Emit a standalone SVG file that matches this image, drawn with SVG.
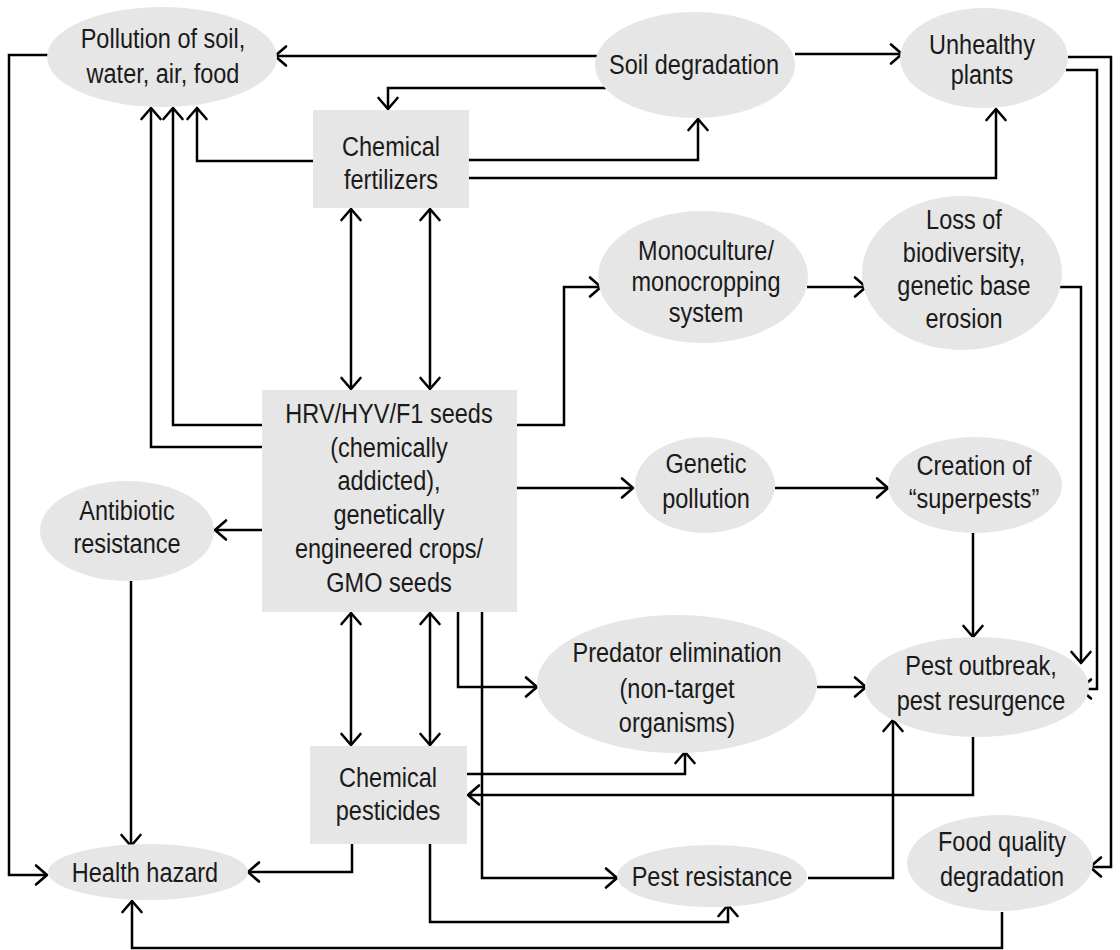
<svg xmlns="http://www.w3.org/2000/svg" width="1120" height="950" viewBox="0 0 1120 950">
<defs>
<style>
.n{fill:#e6e6e6;stroke:none}
.t{font-family:"Liberation Sans",Arial,sans-serif;font-size:28px;fill:#1a1a1a;text-anchor:middle}
.c{fill:none;stroke:#000;stroke-width:2.5;stroke-linejoin:miter}
.a{marker-end:url(#ah)}
.b{marker-start:url(#ah);marker-end:url(#ah)}
</style>
<marker id="ah" viewBox="-14 -12 16 24" refX="0" refY="0" markerWidth="16" markerHeight="24" markerUnits="userSpaceOnUse" orient="auto-start-reverse">
<path d="M-11,-9.5 L0,0 L-11,9.5" fill="none" stroke="#000" stroke-width="2.6" stroke-linejoin="round" stroke-linecap="round"/>
</marker>
</defs>
<rect width="1120" height="950" fill="#fff"/>

<g id="connectors">
<path class="c a" d="M597,56 H275"/>
<path class="c a" d="M606,88 H388 V109"/>
<path class="c a" d="M313,161 H197 V108"/>
<path class="c a" d="M469,160 H698 V119"/>
<path class="c a" d="M469,178 H996 V109"/>
<path class="c a" d="M795,54 H902"/>
<path class="c b" d="M351,209 V389"/>
<path class="c b" d="M430,209 V389"/>
<path class="c a" d="M262,425 H173 V108"/>
<path class="c a" d="M262,447 H151 V108"/>
<path class="c a" d="M48,55 H9 V875 H47"/>
<path class="c a" d="M517,425 H564 V287 H601"/>
<path class="c a" d="M807,287 H866"/>
<path class="c a" d="M517,488 H633"/>
<path class="c a" d="M775,488 H888"/>
<path class="c a" d="M973,533 V637"/>
<path class="c a" d="M1060,287 H1081 V663"/>
<path class="c a" d="M1066,70 H1097 V689 H1080"/>
<path class="c a" d="M1068,57 H1111 V867 H1090"/>
<path class="c a" d="M262,530 H215"/>
<path class="c a" d="M131,581 V846"/>
<path class="c b" d="M351,613 V745"/>
<path class="c b" d="M430,613 V745"/>
<path class="c a" d="M458,612 V687 H537"/>
<path class="c a" d="M482,612 V878 H617"/>
<path class="c a" d="M467,774 H685 V752"/>
<path class="c a" d="M973,737 V795 H468"/>
<path class="c a" d="M352,844 V872 H248"/>
<path class="c a" d="M430,844 V922 H728 V905"/>
<path class="c a" d="M808,878 H893 V720"/>
<path class="c a" d="M817,687 H866"/>
<path class="c a" d="M1002,912 V948 H132 V901"/>
</g>

<g id="pollution">
<ellipse class="n" cx="162" cy="57" rx="115" ry="50"/>
<text class="t" transform="matrix(0.84 0 0 1 163 48)">Pollution of soil,</text>
<text class="t" transform="matrix(0.84 0 0 1 163 83)">water, air, food</text>
</g>
<g id="soil-degradation">
<ellipse class="n" cx="695" cy="65" rx="100" ry="53"/>
<text class="t" transform="matrix(0.84 0 0 1 694 74)">Soil degradation</text>
</g>
<g id="unhealthy-plants">
<ellipse class="n" cx="984" cy="58" rx="84" ry="50"/>
<text class="t" transform="matrix(0.84 0 0 1 982 54)">Unhealthy</text>
<text class="t" transform="matrix(0.84 0 0 1 982 84)">plants</text>
</g>
<g id="chemical-fertilizers">
<rect class="n" x="313" y="110" width="156" height="98"/>
<text class="t" transform="matrix(0.84 0 0 1 391 156)">Chemical</text>
<text class="t" transform="matrix(0.84 0 0 1 391 189)">fertilizers</text>
</g>
<g id="monoculture">
<ellipse class="n" cx="703" cy="277" rx="105" ry="66"/>
<text class="t" transform="matrix(0.84 0 0 1 706 260)">Monoculture/</text>
<text class="t" transform="matrix(0.84 0 0 1 706 291)">monocropping</text>
<text class="t" transform="matrix(0.84 0 0 1 706 322)">system</text>
</g>
<g id="loss-of-biodiversity">
<ellipse class="n" cx="962" cy="273" rx="100" ry="77"/>
<text class="t" transform="matrix(0.84 0 0 1 964 229)">Loss of</text>
<text class="t" transform="matrix(0.84 0 0 1 964 262)">biodiversity,</text>
<text class="t" transform="matrix(0.84 0 0 1 964 295)">genetic base</text>
<text class="t" transform="matrix(0.84 0 0 1 964 328)">erosion</text>
</g>
<g id="hrv-seeds">
<rect class="n" x="262" y="390" width="255" height="222"/>
<text class="t" transform="matrix(0.84 0 0 1 389 423)">HRV/HYV/F1 seeds</text>
<text class="t" transform="matrix(0.84 0 0 1 389 457)">(chemically</text>
<text class="t" transform="matrix(0.84 0 0 1 389 490)">addicted),</text>
<text class="t" transform="matrix(0.84 0 0 1 389 524)">genetically</text>
<text class="t" transform="matrix(0.84 0 0 1 389 558)">engineered crops/</text>
<text class="t" transform="matrix(0.84 0 0 1 389 592)">GMO seeds</text>
</g>
<g id="genetic-pollution">
<ellipse class="n" cx="705" cy="485" rx="70" ry="48"/>
<text class="t" transform="matrix(0.84 0 0 1 706 473)">Genetic</text>
<text class="t" transform="matrix(0.84 0 0 1 706 508)">pollution</text>
</g>
<g id="superpests">
<ellipse class="n" cx="975" cy="485" rx="87" ry="48"/>
<text class="t" transform="matrix(0.84 0 0 1 974 475)">Creation of</text>
<text class="t" transform="matrix(0.84 0 0 1 974 508)">“superpests”</text>
</g>
<g id="antibiotic-resistance">
<ellipse class="n" cx="127" cy="531" rx="87" ry="50"/>
<text class="t" transform="matrix(0.84 0 0 1 127 520)">Antibiotic</text>
<text class="t" transform="matrix(0.84 0 0 1 127 553)">resistance</text>
</g>
<g id="predator-elimination">
<ellipse class="n" cx="677" cy="684" rx="140" ry="69"/>
<text class="t" transform="matrix(0.84 0 0 1 677 662)">Predator elimination</text>
<text class="t" transform="matrix(0.84 0 0 1 677 698)">(non-target</text>
<text class="t" transform="matrix(0.84 0 0 1 677 732)">organisms)</text>
</g>
<g id="pest-outbreak">
<ellipse class="n" cx="977" cy="687" rx="112" ry="50"/>
<text class="t" transform="matrix(0.84 0 0 1 981 675)">Pest outbreak,</text>
<text class="t" transform="matrix(0.84 0 0 1 981 710)">pest resurgence</text>
</g>
<g id="chemical-pesticides">
<rect class="n" x="310" y="746" width="157" height="98"/>
<text class="t" transform="matrix(0.84 0 0 1 388 787)">Chemical</text>
<text class="t" transform="matrix(0.84 0 0 1 388 820)">pesticides</text>
</g>
<g id="health-hazard">
<ellipse class="n" cx="148" cy="872" rx="100" ry="28"/>
<text class="t" transform="matrix(0.84 0 0 1 145 882)">Health hazard</text>
</g>
<g id="pest-resistance">
<ellipse class="n" cx="712" cy="876" rx="95" ry="31"/>
<text class="t" transform="matrix(0.84 0 0 1 712 886)">Pest resistance</text>
</g>
<g id="food-quality">
<ellipse class="n" cx="1000" cy="863" rx="93" ry="48"/>
<text class="t" transform="matrix(0.84 0 0 1 1002 851)">Food quality</text>
<text class="t" transform="matrix(0.84 0 0 1 1002 886)">degradation</text>
</g>
</svg>
